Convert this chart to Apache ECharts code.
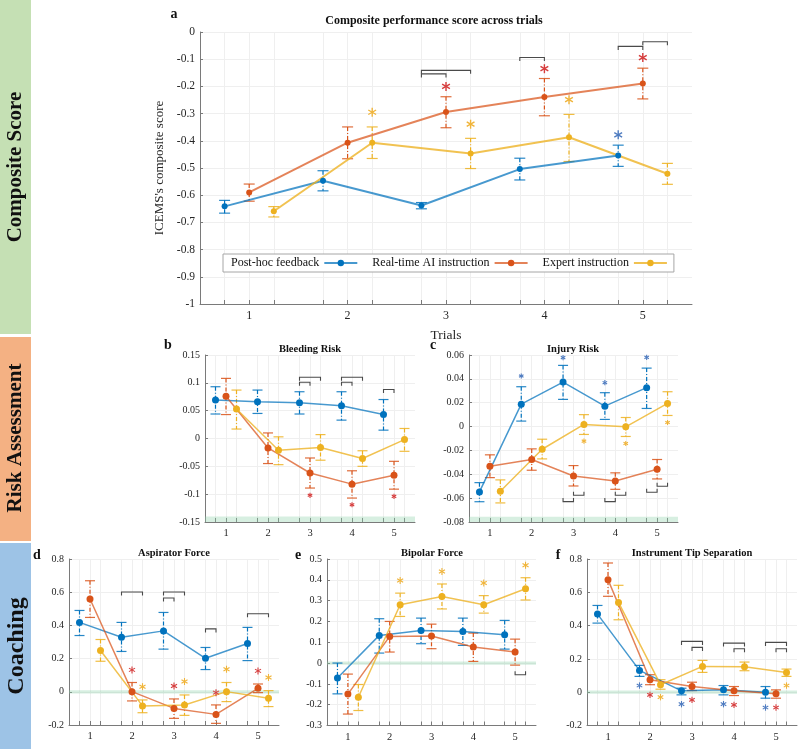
<!DOCTYPE html>
<html><head><meta charset="utf-8">
<script src="https://cdn.jsdelivr.net/npm/echarts@6/dist/echarts.min.js"></script>
<style>html,body{margin:0;padding:0;background:#fff}#c{width:799px;height:749px}</style>
</head><body><div id="c"></div><script>
// ---------- data ----------
const trials = [1, 2, 3, 4, 5];
const groupNames = ['Post-hoc feedback', 'Real-time AI instruction', 'Expert instruction'];
const tickLabels = [1, 2, 3, 4, 5];

// a: Composite performance score (rows: post-hoc, AI, expert)
const compMean = [[-0.641,-0.547,-0.638,-0.504,-0.454],[-0.590,-0.407,-0.294,-0.239,-0.189],[-0.659,-0.407,-0.447,-0.387,-0.521]];
const compLow  = [[-0.666,-0.584,-0.650,-0.544,-0.494],[-0.622,-0.466,-0.352,-0.308,-0.246],[-0.680,-0.465,-0.502,-0.476,-0.560]];
const compHigh = [[-0.619,-0.510,-0.627,-0.464,-0.416],[-0.559,-0.349,-0.238,-0.171,-0.133],[-0.642,-0.349,-0.391,-0.303,-0.483]];
const compStars = [[2,2,-0.295],[2,3,-0.339],[1,3,-0.200],[1,4,-0.135],[2,4,-0.249],[1,5,-0.094],[0,5,-0.378]];
const compBrackets = [[3,0,1,-0.154,1],[3,0,2,-0.141,1],[4,0,1,-0.094,1],[5,0,1,-0.053,1],[5,1,2,-0.036,1]];

// b: Bleeding Risk
const bleedMean = [[0.069,0.066,0.064,0.059,0.043],[0.076,-0.017,-0.062,-0.082,-0.066],[0.053,-0.021,-0.016,-0.036,-0.002]];
const bleedLow  = [[0.044,0.045,0.044,0.033,0.015],[0.043,-0.045,-0.089,-0.107,-0.091],[0.017,-0.047,-0.039,-0.050,-0.023]];
const bleedHigh = [[0.093,0.087,0.084,0.084,0.070],[0.108,0.010,-0.035,-0.058,-0.041],[0.087,0.003,0.007,-0.022,0.018]];
const bleedStars = [[1,3,-0.102],[1,4,-0.119],[1,5,-0.104]];
const bleedBrackets = [[3,0,1,0.101,1],[3,0,2,0.110,1],[4,0,1,0.101,1],[4,0,2,0.110,1],[5,0,1,0.088,1]];

// c: Injury Risk
const injMean = [[-0.0548,0.0188,0.0373,0.0171,0.0326],[-0.0332,-0.0276,-0.0414,-0.0456,-0.0358],[-0.0542,-0.0190,0.0018,-0.0002,0.0194]];
const injLow  = [[-0.0630,0.0046,0.0228,0.0060,0.0152],[-0.0428,-0.0366,-0.0498,-0.0526,-0.0439],[-0.0640,-0.0271,-0.0066,-0.0083,0.0093]];
const injHigh = [[-0.0470,0.0334,0.0513,0.0284,0.0490],[-0.0237,-0.0187,-0.0327,-0.0388,-0.0276],[-0.0447,-0.0106,0.0100,0.0076,0.0292]];
const injStars = [[0,2,0.0424],[0,3,0.0578],[0,4,0.0368],[0,5,0.0580],[2,3,-0.0122],[2,4,-0.0142],[2,5,0.0034]];
const injBrackets = [[3,0,1,-0.0629,-1],[3,1,2,-0.0576,-1],[4,0,1,-0.0629,-1],[4,1,2,-0.0576,-1],[5,0,1,-0.0550,-1],[5,1,2,-0.0500,-1]];

// d: Aspirator Force
const aspMean = [[0.418,0.329,0.367,0.202,0.291],[0.559,0.001,-0.100,-0.136,0.021],[0.249,-0.085,-0.079,0.001,-0.039]];
const aspLow  = [[0.339,0.243,0.257,0.134,0.188],[0.448,-0.055,-0.160,-0.190,-0.005],[0.184,-0.126,-0.142,-0.059,-0.089]];
const aspHigh = [[0.490,0.418,0.478,0.267,0.388],[0.669,0.056,-0.043,-0.079,0.047],[0.315,-0.049,-0.019,0.056,0.007]];
const aspStars = [[1,2,0.132],[2,2,0.031],[1,3,0.035],[2,3,0.062],[1,4,-0.005],[2,4,0.136],[1,5,0.126],[2,5,0.086]];
const aspBrackets = [[2,0,2,0.601,1],[3,0,2,0.601,1],[3,0,1,0.565,1],[4,0,1,0.379,1],[5,0,2,0.470,1]];

// e: Bipolar Force
const bipMean = [[-0.072,0.133,0.157,0.152,0.136],[-0.149,0.128,0.130,0.077,0.053],[-0.164,0.280,0.320,0.280,0.357]];
const bipLow  = [[-0.148,0.048,0.093,0.085,0.067],[-0.245,0.053,0.069,0.008,-0.010],[-0.228,0.224,0.260,0.240,0.303]];
const bipHigh = [[0.000,0.213,0.216,0.216,0.205],[-0.053,0.200,0.187,0.144,0.115],[-0.103,0.336,0.380,0.324,0.410]];
const bipStars = [[2,2,0.397],[2,3,0.440],[2,4,0.385],[2,5,0.470]];
const bipBrackets = [[5,1,2,-0.056,-1]];

// f: Instrument Tip Separation
const tipMean = [[0.469,0.131,0.008,0.014,0.000],[0.676,0.075,0.034,0.008,-0.010],[0.539,0.045,0.155,0.153,0.119]];
const tipLow  = [[0.415,0.095,-0.016,-0.016,-0.036],[0.576,0.045,0.010,-0.020,-0.036],[0.435,0.018,0.119,0.129,0.095]];
const tipHigh = [[0.521,0.161,0.024,0.040,0.034],[0.776,0.105,0.060,0.034,0.014],[0.642,0.075,0.191,0.181,0.139]];
const tipStars = [[0,2,0.040],[1,2,-0.016],[2,2,-0.030],[0,3,-0.072],[1,3,-0.046],[0,4,-0.072],[1,4,-0.076],[0,5,-0.092],[1,5,-0.092],[2,5,0.040]];
const tipBrackets = [[3,0,2,0.305,1],[3,1,2,0.269,1],[4,0,2,0.295,1],[4,1,2,0.261,1],[5,0,2,0.299,1],[5,1,2,0.261,1]];

// ---------- style / layout ----------
const FONT = 'Liberation Serif';
const offsets = [-0.25, 0, 0.25];
const colors = ['#0072BD', '#D95319', '#EDB120'];
const lineColors = ['rgba(0,114,189,0.72)', 'rgba(217,83,25,0.72)', 'rgba(237,177,32,0.78)'];
const starColors = ['#4f7cc0', '#d63c3c', '#f0b43a'];

const panels = [
  {mean: compMean, low: compLow, high: compHigh, stars: compStars, br: compBrackets, band: null,
   grid: {left: 200, top: 32, width: 492, height: 272}, ymin: -1, ymax: 0, yint: 0.1,
   fs: 11.5, lw: 2, sym: 6, cap: 5.5, star: 4.5, big: true},
  {mean: bleedMean, low: bleedLow, high: bleedHigh, stars: bleedStars, br: bleedBrackets, band: [-0.15, -0.14],
   grid: {left: 205, top: 355, width: 210, height: 167}, ymin: -0.15, ymax: 0.15, yint: 0.05,
   fs: 10, lw: 1.5, sym: 7, cap: 5, star: 2.6},
  {mean: injMean, low: injLow, high: injHigh, stars: injStars, br: injBrackets, band: [-0.08, -0.0755],
   grid: {left: 469, top: 355, width: 209, height: 167}, ymin: -0.08, ymax: 0.06, yint: 0.02,
   fs: 10, lw: 1.5, sym: 7, cap: 5, star: 2.6},
  {mean: aspMean, low: aspLow, high: aspHigh, stars: aspStars, br: aspBrackets, band: [-0.01, 0.01],
   grid: {left: 69, top: 559, width: 210, height: 166}, ymin: -0.2, ymax: 0.8, yint: 0.2,
   fs: 10, lw: 1.5, sym: 7, cap: 5, star: 3.5},
  {mean: bipMean, low: bipLow, high: bipHigh, stars: bipStars, br: bipBrackets, band: [-0.008, 0.008],
   grid: {left: 327, top: 559, width: 209, height: 166.5}, ymin: -0.3, ymax: 0.5, yint: 0.1,
   fs: 10, lw: 1.5, sym: 7, cap: 5, star: 3.5},
  {mean: tipMean, low: tipLow, high: tipHigh, stars: tipStars, br: tipBrackets, band: [-0.01, 0.01],
   grid: {left: 587, top: 559, width: 210, height: 166.5}, ymin: -0.2, ymax: 0.8, yint: 0.2,
   fs: 10, lw: 1.5, sym: 7, cap: 5, star: 3.2}
];

const tickPos = [];
trials.forEach(t => offsets.forEach(o => tickPos.push(t + o)));

const grids = [], xAxes = [], yAxes = [], series = [];
panels.forEach((p, i) => {
  grids.push(Object.assign({containLabel: false}, p.grid));
  xAxes.push({
    type: 'value', gridIndex: i, min: 0.5, max: 5.5,
    axisLine: {show: true, onZero: false, lineStyle: {color: '#7a7a7a', width: 1}},
    axisTick: {show: true, inside: true, length: 4, customValues: tickPos, lineStyle: {color: '#7a7a7a'}},
    axisLabel: {customValues: tickLabels, color: '#262626', fontFamily: FONT, fontSize: p.fs + 0.5, margin: 6},
    splitLine: {show: true, lineStyle: {color: '#efefef', width: 1}},
    name: p.big ? 'Trials' : '', nameLocation: 'middle', nameGap: 24,
    nameTextStyle: {fontFamily: FONT, fontSize: 13.5, color: '#262626'}
  });
  yAxes.push({
    type: 'value', gridIndex: i, min: p.ymin, max: p.ymax, interval: p.yint,
    axisLine: {show: true, onZero: false, lineStyle: {color: '#7a7a7a', width: 1}},
    axisTick: {show: true, inside: true, length: 3, lineStyle: {color: '#7a7a7a'}},
    axisLabel: {color: '#262626', fontFamily: FONT, fontSize: p.fs, margin: 5},
    splitLine: {show: true, lineStyle: {color: '#efefef', width: 1}},
    name: p.big ? "ICEMS's composite score" : '', nameLocation: 'middle', nameGap: 27,
    nameTextStyle: {fontFamily: FONT, fontSize: 13, color: '#262626'}
  });

  // error bars
  for (let g = 0; g < 3; g++) {
    const c = colors[g];
    series.push({
      type: 'custom', xAxisIndex: i, yAxisIndex: i, clip: false, z: 3,
      data: trials.map((t, k) => [t + offsets[g], p.low[g][k], p.high[g][k]]),
      encode: {x: 0, y: [1, 2]},
      renderItem: (params, api) => {
        const x = api.value(0);
        const a = api.coord([x, api.value(2)]);
        const b = api.coord([x, api.value(1)]);
        const w = p.cap;
        return {type: 'group', children: [
          {type: 'line', shape: {x1: a[0], y1: a[1], x2: b[0], y2: b[1]}, style: {stroke: c, lineWidth: 1.2, lineDash: [4, 2, 1, 2]}},
          {type: 'line', shape: {x1: a[0] - w, y1: a[1], x2: a[0] + w, y2: a[1]}, style: {stroke: c, lineWidth: 1.2, opacity: 0.85}},
          {type: 'line', shape: {x1: b[0] - w, y1: b[1], x2: b[0] + w, y2: b[1]}, style: {stroke: c, lineWidth: 1.2, opacity: 0.85}}
        ]};
      }
    });
  }
  // lines
  for (let g = 0; g < 3; g++) {
    const s = {
      type: 'line', name: groupNames[g], xAxisIndex: i, yAxisIndex: i, z: 4,
      data: trials.map((t, k) => [t + offsets[g], p.mean[g][k]]),
      symbol: 'circle', symbolSize: p.sym, showSymbol: true,
      lineStyle: {color: lineColors[g], width: p.lw},
      itemStyle: {color: colors[g], borderColor: colors[g], borderWidth: 0}
    };
    if (g === 0 && p.band) {
      s.markArea = {silent: true, itemStyle: {color: 'rgba(140,210,170,0.35)'},
        data: [[{yAxis: p.band[0]}, {yAxis: p.band[1]}]]};
    }
    series.push(s);
  }
  // stars
  series.push({
    type: 'custom', xAxisIndex: i, yAxisIndex: i, clip: false, z: 5,
    data: p.stars.map(s => [s[1] + offsets[s[0]], s[2], s[0]]),
    encode: {x: 0, y: 1},
    renderItem: (params, api) => {
      const c = api.coord([api.value(0), api.value(1)]);
      const col = starColors[api.value(2)];
      const r = p.star;
      const ch = [];
      [90, 30, 150].forEach(ang => {
        const dx = r * Math.cos(ang * Math.PI / 180), dy = r * Math.sin(ang * Math.PI / 180);
        ch.push({type: 'line', shape: {x1: c[0] - dx, y1: c[1] - dy, x2: c[0] + dx, y2: c[1] + dy},
          style: {stroke: col, lineWidth: p.big ? 1.4 : 1.1}});
      });
      return {type: 'group', children: ch};
    }
  });
  // brackets
  series.push({
    type: 'custom', xAxisIndex: i, yAxisIndex: i, clip: false, z: 5,
    data: p.br.map(b => [b[0] + offsets[b[1]], b[0] + offsets[b[2]], b[3], b[4]]),
    encode: {x: [0, 1], y: 2},
    renderItem: (params, api) => {
      const a = api.coord([api.value(0), api.value(2)]);
      const b = api.coord([api.value(1), api.value(2)]);
      const h = 3.5 * api.value(3);
      return {type: 'polyline', shape: {points: [[a[0], a[1] + h], a, b, [b[0], b[1] + h]]},
        style: {stroke: '#4a4a4a', lineWidth: 1.1, fill: null}};
    }
  });
});

const txt = (x, y, text, size, bold, extra) => Object.assign({
  type: 'text', x: x, y: y, z: 10,
  style: {text: text, font: (bold ? 'bold ' : '') + size + 'px "' + FONT + '"', fill: '#111', align: 'center', verticalAlign: 'middle'}
}, extra || {});

const graphic = [
  {type: 'rect', shape: {x: 0, y: 0, width: 31, height: 334}, style: {fill: '#c5e0b4'}},
  {type: 'rect', shape: {x: 0, y: 337, width: 31, height: 204}, style: {fill: '#f4b183'}},
  {type: 'rect', shape: {x: 0, y: 543, width: 31, height: 206}, style: {fill: '#9dc3e6'}},
  txt(16, 167, 'Composite Score', 21, true, {rotation: Math.PI / 2}),
  txt(16, 438, 'Risk Assessment', 21, true, {rotation: Math.PI / 2}),
  txt(17, 646, 'Coaching', 24, true, {rotation: Math.PI / 2}),
  txt(174, 14, 'a', 14, true), txt(168, 345, 'b', 14, true), txt(433, 345, 'c', 14, true),
  txt(37, 555, 'd', 14, true), txt(298, 555, 'e', 14, true), txt(558, 555, 'f', 14, true),
  txt(434, 21, 'Composite performance score across trials', 12, true),
  txt(310, 349, 'Bleeding Risk', 10.5, true), txt(573, 349, 'Injury Risk', 10.5, true),
  txt(174, 553, 'Aspirator Force', 10.5, true), txt(432, 553, 'Bipolar Force', 10.5, true),
  txt(692, 553, 'Instrument Tip Separation', 10.5, true)
];

const chart = echarts.init(document.getElementById('c'), null, {renderer: 'canvas'});
chart.setOption({
  animation: false,
  backgroundColor: '#fff',
  textStyle: {fontFamily: FONT},
  grid: grids, xAxis: xAxes, yAxis: yAxes, series: series, graphic: graphic,
  legend: {
    data: groupNames, left: 223, top: 254, align: 'right', orient: 'horizontal',
    itemWidth: 33, itemHeight: 8, itemGap: 14, padding: [3, 6, 3, 8],
    borderColor: '#a6a6a6', borderWidth: 1, backgroundColor: '#fff',
    textStyle: {fontFamily: FONT, fontSize: 12, color: '#111'}
  }
});
</script></body></html>
